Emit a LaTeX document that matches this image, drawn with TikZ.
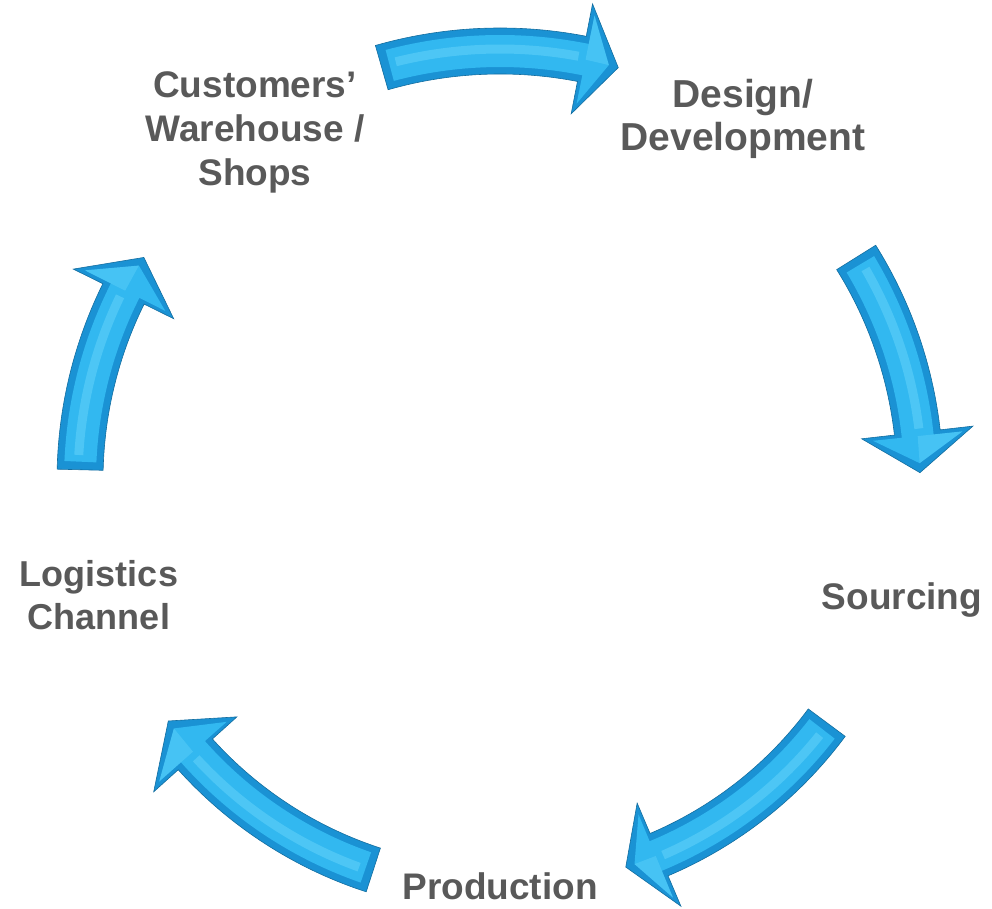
\documentclass[tikz,border=0pt]{standalone}
\usepackage{fontspec}
\setmainfont{Liberation Sans}
\definecolor{arrowface}{RGB}{50,184,240}
\definecolor{arrowedge}{RGB}{26,146,212}
\definecolor{arrowlight}{RGB}{110,216,252}
\definecolor{labelgray}{RGB}{89,89,89}
\begin{document}
\begin{tikzpicture}[x=1pt,y=1pt,
  stagetext/.style={text=labelgray,font=\fontsize{37}{44}\selectfont\bfseries,align=center,inner sep=0pt}]
\useasboundingbox (0,0) rectangle (992,908);
% 箭头
\begin{scope}[shift={(500,428)}]
\foreach \s/\b/\t/\r in {106/79/74/429, 32/6.5/1/420, -36.6/-67/-72/407, 252/222/216/410, 178.6/153.7/148/420}
{
  \fill[arrowedge,draw=arrowedge!75!black,line width=0.6]
    (\s:\r+23) arc[start angle=\s,end angle=\b,radius=\r+23] -- (\b:\r+56) -- (\t:\r)
    -- (\b:\r-56) -- (\b:\r-23) arc[start angle=\b,end angle=\s,radius=\r-23] -- cycle;
  \fill[arrowface]
    (\s-1.1:\r+16) arc[start angle=\s-1.1,end angle=\b-0.5,radius=\r+16] -- (\b-0.5:\r+45) -- (\t+1.3:\r)
    -- (\b-0.5:\r-45) -- (\b-0.5:\r-16) arc[start angle=\b-0.5,end angle=\s-1.1,radius=\r-16] -- cycle;
  \fill[arrowlight,opacity=0.35] (\b-0.5:\r+45) -- (\t+1.3:\r) -- (\b-0.5:\r) -- cycle;
  \draw[arrowlight,line width=9,opacity=0.45]
    (\s-2:\r+2) arc[start angle=\s-2,end angle=\b+0.5,radius=\r+2];
}
\end{scope}
% 标签
\node[stagetext] (customers) at (255,776) {Customers’\\Warehouse /\\Shops};
\node[stagetext,font=\fontsize{39}{43}\selectfont\bfseries] (design) at (743,789) {Design/\\Development};
\node[stagetext] (sourcing) at (902,308) {Sourcing};
\node[stagetext] (production) at (500,22) {Production};
\node[stagetext,font=\fontsize{36}{43}\selectfont\bfseries] (logistics) at (99,313) {Logistics\\Channel};
\end{tikzpicture}
\end{document}
